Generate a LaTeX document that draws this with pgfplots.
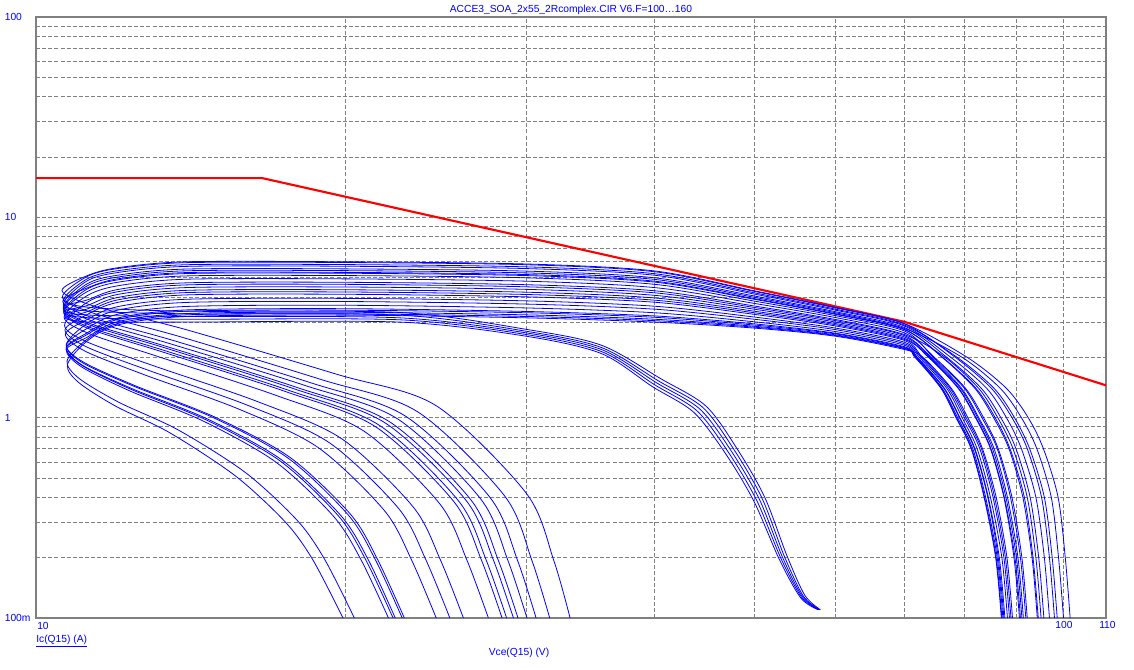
\documentclass[border=0pt]{standalone}
\usepackage{fontspec}
\setmainfont{Liberation Sans}
\usepackage{pgfplots}
\pgfplotsset{compat=1.18}
\definecolor{gridgray}{RGB}{128,128,128}
\definecolor{lblue}{RGB}{0,0,255}
\definecolor{soared}{RGB}{255,0,0}

\begin{document}
\fontsize{7.7}{9}\selectfont
\begin{tikzpicture}[x=1pt,y=1pt]
\useasboundingbox (-27,-38.25) rectangle (823.5,463.5);
\begin{axis}[
    at={(0,0)}, anchor=south west,
    scale only axis, width=802.5pt, height=450.75pt,
    xmode=log, ymode=log,
    xmin=10, xmax=110, ymin=0.1, ymax=100,
    xtick={10,100}, minor xtick={20,30,40,50,60,70,80,90},
    ytick={0.1,1,10,100},
    minor ytick={0.2,0.3,0.4,0.5,0.6,0.7,0.8,0.9,2,3,4,5,6,7,8,9,20,30,40,50,60,70,80,90},
    xticklabels={,}, yticklabels={,,,},
    major tick length=0pt, minor tick length=0pt,
    grid=both,
    major grid style={gridgray, line width=0.6pt, dash pattern=on 3pt off 1.6pt},
    minor grid style={gridgray, line width=0.6pt, dash pattern=on 3pt off 1.6pt},
    axis line style={gridgray, line width=0.9pt},
    every axis plot/.append style={line width=0.6pt},
]
% SOA limit
\addplot[soared, line width=1.6pt] coordinates {(10,15.7)(16.6,15.7)(70,3.01)(110,1.45)};

% simulated load lines (F sweep)
\addplot[lblue, smooth, tension=0.5] coordinates {(101.5,0.1)(100.4,0.2)(98.8,0.4)(95.6,0.7)(92.4,1.0)(88,1.4)(80.6,2.0)(70,2.95)(60,3.55)(50,4.3)(40,5.4)(30,5.85)(20,6.0)(14,6.0)(12,5.6)(11.2,5.1)(10.6,4.3)(11.4,3.6)(14,2.75)(19.6,1.65)(24.5,1.15)(30,0.42)(31.9,0.195)(33.1,0.1)};
\addplot[lblue, smooth, tension=0.5] coordinates {(98.0,0.1)(96.9,0.2)(95.2,0.4)(92.2,0.7)(89.1,1.0)(85.1,1.4)(78.5,2.0)(70,2.94)(60,3.53)(50,4.27)(40,5.35)(30,5.80)(20,5.95)(14,5.94)(12,5.55)(11.2,5.05)(10.61,3.99)(11.36,3.33)(13.80,2.54)(18.95,1.55)(23.52,1.07)(28.58,0.407)(30.37,0.195)(31.62,0.1)};
\addplot[lblue, smooth, tension=0.5] coordinates {(98.6,0.1)(97.5,0.2)(95.8,0.4)(92.7,0.7)(89.6,1.0)(85.6,1.4)(78.8,2.0)(70,2.90)(60,3.48)(50,4.20)(40,5.23)(30,5.66)(20,5.81)(14,5.80)(12,5.41)(11.2,4.91)(10.62,3.79)(11.34,3.16)(13.67,2.41)(18.54,1.49)(22.9,1.016)(27.67,0.399)(29.41,0.195)(30.67,0.1)};
\addplot[lblue, smooth, tension=0.5] coordinates {(96.9,0.1)(95.8,0.2)(94.0,0.4)(91.0,0.7)(88.0,1.0)(84.2,1.4)(77.7,2.0)(70,2.87)(60,3.44)(50,4.14)(40,5.14)(30,5.55)(20,5.70)(14,5.69)(12,5.30)(11.2,4.80)(10.63,3.66)(11.32,3.05)(13.58,2.32)(18.26,1.45)(22.5,0.984)(27.08,0.394)(28.78,0.195)(30.05,0.1)};
\addplot[lblue, smooth, tension=0.5] coordinates {(95.7,0.1)(94.6,0.2)(92.8,0.4)(89.9,0.7)(86.9,1.0)(83.2,1.4)(77.0,2.0)(70,2.82)(60,3.38)(50,4.05)(40,4.99)(30,5.39)(20,5.53)(14,5.52)(12,5.14)(11.2,4.64)(10.63,3.54)(11.31,2.94)(13.50,2.24)(17.99,1.41)(22.1,0.952)(26.5,0.389)(28.17,0.195)(29.45,0.1)};
\addplot[lblue, smooth, tension=0.5] coordinates {(100.0,0.1)(98.9,0.2)(97.3,0.4)(94.2,0.7)(91.0,1.0)(86.8,1.4)(79.7,2.0)(70,2.79)(60,3.34)(50,3.99)(40,4.90)(30,5.28)(20,5.42)(14,5.41)(12,5.03)(11.2,4.53)(10.63,3.48)(11.30,2.89)(13.45,2.205)(17.86,1.39)(21.9,0.937)(26.22,0.386)(27.87,0.195)(29.15,0.1)};
\addplot[lblue, smooth, tension=0.5] coordinates {(94.5,0.1)(93.4,0.2)(91.6,0.4)(88.7,0.7)(85.8,1.0)(82.2,1.4)(76.3,2.0)(70,2.76)(60,3.30)(50,3.93)(40,4.80)(30,5.18)(20,5.31)(14,5.30)(12,4.93)(11.2,4.43)(10.63,3.85)(11.3,3.55)(14,3.4)(22.6,3.35)(30,2.76)(35.5,2.3)(40.6,1.56)(44.9,1.14)(48.2,0.69)(51.2,0.40)(53.8,0.205)(56,0.13)(58.0,0.11)};
\addplot[lblue, smooth, tension=0.5] coordinates {(94.3,0.1)(93.2,0.2)(91.3,0.4)(88.5,0.7)(85.5,1.0)(82.0,1.4)(76.2,2.0)(70,2.75)(60,3.28)(50,3.90)(40,4.75)(30,5.12)(20,5.26)(14,5.24)(12,4.87)(11.2,4.37)(10.64,3.39)(11.29,2.82)(13.39,2.15)(17.66,1.364)(21.6,0.914)(25.8,0.382)(27.42,0.195)(28.71,0.1)};
\addplot[lblue, smooth, tension=0.5] coordinates {(91.9,0.1)(90.8,0.2)(88.8,0.4)(86.2,0.7)(83.3,1.0)(80.1,1.4)(74.7,2.0)(70,2.71)(60,3.23)(50,3.82)(40,4.63)(30,4.99)(20,5.12)(14,5.10)(12,4.74)(11.2,4.24)(10.64,3.34)(11.28,2.77)(13.35,2.11)(17.53,1.345)(21.41,0.90)(25.52,0.38)(27.13,0.195)(28.42,0.1)};
\addplot[lblue, smooth, tension=0.5] coordinates {(92.2,0.1)(91.1,0.2)(89.1,0.4)(86.4,0.7)(83.6,1.0)(80.3,1.4)(74.9,2.0)(70,2.65)(60,3.16)(50,3.72)(40,4.46)(30,4.80)(20,4.93)(14,4.91)(12,4.55)(11.2,4.05)(10.65,3.17)(11.26,2.63)(13.22,2.0)(17.14,1.29)(20.85,0.857)(24.71,0.372)(26.26,0.195)(27.56,0.1)};
\addplot[lblue, smooth, tension=0.5] coordinates {(95.1,0.1)(94.0,0.2)(92.2,0.4)(89.3,0.7)(86.3,1.0)(82.7,1.4)(76.7,2.0)(70,2.60)(60,3.09)(50,3.61)(40,4.30)(30,4.61)(20,4.74)(14,4.71)(12,4.36)(11.2,3.86)(10.64,3.6)(11.3,3.4)(14,3.3)(22.6,3.25)(30,2.7)(35.5,2.24)(40.4,1.52)(44.6,1.12)(47.9,0.68)(50.9,0.395)(53.5,0.203)(55.8,0.129)(57.9,0.11)};
\addplot[lblue, smooth, tension=0.5] coordinates {(91.1,0.1)(90.0,0.2)(87.9,0.4)(85.3,0.7)(82.5,1.0)(79.4,1.4)(74.2,2.0)(70,2.57)(60,3.05)(50,3.55)(40,4.2)(30,4.5)(20,4.63)(14,4.6)(12,4.25)(11.2,3.75)(10.66,2.89)(11.21,2.39)(13.0,1.82)(16.45,1.20)(19.85,0.784)(23.29,0.358)(24.75,0.195)(26.06,0.1)};
\addplot[lblue, smooth, tension=0.5] coordinates {(91.4,0.1)(90.3,0.2)(88.2,0.4)(85.6,0.7)(82.7,1.0)(79.6,1.4)(74.4,2.0)(70,2.53)(60,3.0)(50,3.48)(40,4.08)(30,4.37)(20,4.49)(14,4.46)(12,4.12)(11.2,3.62)(10.65,3.4)(11.3,3.25)(14,3.2)(22.6,3.15)(30,2.65)(35.5,2.19)(40.2,1.49)(44.3,1.10)(47.6,0.67)(50.6,0.39)(53.3,0.2)(55.7,0.128)(57.9,0.11)};
\addplot[lblue, smooth, tension=0.5] coordinates {(90.8,0.1)(89.7,0.2)(87.6,0.4)(85.0,0.7)(82.2,1.0)(79.1,1.4)(74.0,2.0)(70,2.49)(60,2.95)(50,3.4)(40,3.96)(30,4.23)(20,4.35)(14,4.32)(12,3.98)(11.2,3.48)(10.66,3.3)(11.3,3.15)(14,3.1)(22.6,3.08)(30,2.6)(35.5,2.14)(40.0,1.46)(44.0,1.08)(47.3,0.66)(50.3,0.385)(53.1,0.198)(55.6,0.127)(57.8,0.11)};
\addplot[lblue, smooth, tension=0.5] coordinates {(90.6,0.1)(89.5,0.2)(87.5,0.4)(84.9,0.7)(82.1,1.0)(79.0,1.4)(73.9,2.0)(70,2.46)(60,2.91)(50,3.34)(40,3.86)(30,4.12)(20,4.24)(14,4.21)(12,3.87)(11.2,3.37)(10.67,3.15)(11.3,3.0)(14,3.0)(22.6,3.0)(30,2.55)(35.5,2.09)(39.8,1.43)(43.7,1.06)(47.0,0.65)(50.0,0.38)(52.9,0.196)(55.5,0.126)(57.7,0.11)};
\addplot[lblue, smooth, tension=0.5] coordinates {(88.9,0.1)(87.8,0.2)(85.7,0.4)(83.2,0.7)(80.4,1.0)(77.6,1.4)(72.9,2.0)(70,2.43)(60,2.87)(50,3.28)(40,3.77)(30,4.01)(20,4.13)(14,4.10)(12,3.76)(11.2,3.26)(10.67,2.74)(11.19,2.26)(12.88,1.72)(16.09,1.15)(19.32,0.747)(22.55,0.351)(23.96,0.195)(25.28,0.1)};
\addplot[lblue, smooth, tension=0.5] coordinates {(88.6,0.1)(87.5,0.2)(85.4,0.4)(82.9,0.7)(80.1,1.0)(77.3,1.4)(72.7,2.0)(70,2.38)(60,2.8)(50,3.18)(40,3.6)(30,3.83)(20,3.94)(14,3.9)(12,3.58)(11.2,3.08)(10.68,2.61)(11.16,2.15)(12.76,1.635)(15.73,1.107)(18.81,0.711)(21.83,0.344)(23.2,0.195)(24.52,0.1)};
\addplot[lblue, smooth, tension=0.5] coordinates {(88.2,0.1)(87.1,0.2)(84.9,0.4)(82.4,0.7)(79.7,1.0)(77.0,1.4)(72.4,2.0)(70,2.34)(60,2.75)(50,3.1)(40,3.48)(30,3.69)(20,3.8)(14,3.76)(12,3.44)(11.2,2.94)(10.70,2.31)(11.11,1.90)(12.48,1.446)(14.93,1.007)(17.66,0.635)(20.24,0.329)(21.51,0.195)(22.83,0.1)};
\addplot[lblue, smooth, tension=0.5] coordinates {(87.7,0.1)(86.6,0.2)(84.5,0.4)(82.0,0.7)(79.3,1.0)(76.6,1.4)(72.1,2.0)(70,2.30)(60,2.69)(50,3.01)(40,3.34)(30,3.53)(20,3.64)(14,3.59)(12,3.28)(11.2,2.78)(10.70,2.295)(11.10,1.88)(12.46,1.433)(14.88,1.0)(17.58,0.63)(20.13,0.327)(21.4,0.195)(22.72,0.1)};
\addplot[lblue, smooth, tension=0.5] coordinates {(87.5,0.1)(86.4,0.2)(84.4,0.4)(81.9,0.7)(79.2,1.0)(76.5,1.4)(72.0,2.0)(70,2.26)(60,2.64)(50,2.94)(40,3.22)(30,3.39)(20,3.5)(14,3.45)(12,3.14)(11.2,2.64)(10.70,2.24)(11.09,1.83)(12.4,1.396)(14.71,0.981)(17.35,0.615)(19.81,0.324)(21.06,0.195)(22.37,0.1)};
\addplot[lblue, smooth, tension=0.5] coordinates {(87.3,0.1)(86.2,0.2)(84.0,0.4)(81.6,0.7)(78.9,1.0)(76.2,1.4)(71.9,2.0)(70,2.24)(60,2.62)(50,2.9)(40,3.17)(30,3.34)(20,3.44)(14,3.4)(12,3.09)(11.2,2.59)(10.70,2.22)(11.09,1.82)(12.38,1.383)(14.65,0.974)(17.27,0.61)(19.7,0.323)(20.94,0.195)(22.26,0.1)};
\addplot[lblue, smooth, tension=0.5] coordinates {(87.0,0.1)(85.9,0.2)(83.7,0.4)(81.3,0.7)(78.6,1.0)(76.0,1.4)(71.7,2.0)(70,2.22)(60,2.59)(50,2.86)(40,3.1)(30,3.26)(20,3.36)(14,3.31)(12,3.01)(11.2,2.51)(10.70,2.18)(11.08,1.79)(12.34,1.36)(14.55,0.961)(17.12,0.60)(19.49,0.321)(20.72,0.195)(22.03,0.1)};
\addplot[lblue, smooth, tension=0.5] coordinates {(87.1,0.1)(86.0,0.2)(83.8,0.4)(81.4,0.7)(78.7,1.0)(76.1,1.4)(71.8,2.0)(70,2.21)(60,2.57)(50,2.83)(40,3.05)(30,3.2)(20,3.3)(14,3.26)(12,2.95)(11.2,2.45)(10.72,1.92)(11.02,1.567)(12.05,1.191)(13.75,0.869)(16.0,0.531)(17.98,0.305)(19.11,0.195)(20.41,0.1)};
\addplot[lblue, smooth, tension=0.5] coordinates {(89.2,0.1)(88.1,0.2)(86.0,0.4)(83.4,0.7)(80.7,1.0)(77.8,1.4)(73.0,2.0)(70,2.19)(60,2.55)(50,2.8)(40,3.0)(30,3.15)(20,3.25)(14,3.2)(12,2.9)(11.2,2.4)(10.73,1.84)(11.0,1.5)(11.96,1.14)(13.5,0.84)(15.65,0.51)(17.5,0.30)(18.6,0.195)(19.9,0.1)};
\end{axis}

% title, tick labels and axis labels
\node[lblue, inner sep=0pt] at (401.25,456) {ACCE3\_SOA\_2x55\_2Rcomplex.CIR V6.F=100…160};
\node[lblue, inner sep=0pt, anchor=west] at (-23.6,450.75) {100};
\node[lblue, inner sep=0pt, anchor=west] at (-23.6,300.75) {10};
\node[lblue, inner sep=0pt, anchor=west] at (-23.6,150) {1};
\node[lblue, inner sep=0pt, anchor=west] at (-23.6,0) {100m};
\node[lblue, inner sep=0pt, anchor=west] at (0.75,-6) {10};
\node[lblue, inner sep=0pt] at (771,-5.25) {100};
\node[lblue, inner sep=0pt] at (803.6,-5.25) {110};
\node[lblue, inner sep=0pt, anchor=west] at (0,-17.5) {\underline{Ic(Q15) (A)}};
\node[lblue, inner sep=0pt] at (362.25,-26.5) {Vce(Q15) (V)};
\end{tikzpicture}
\end{document}
